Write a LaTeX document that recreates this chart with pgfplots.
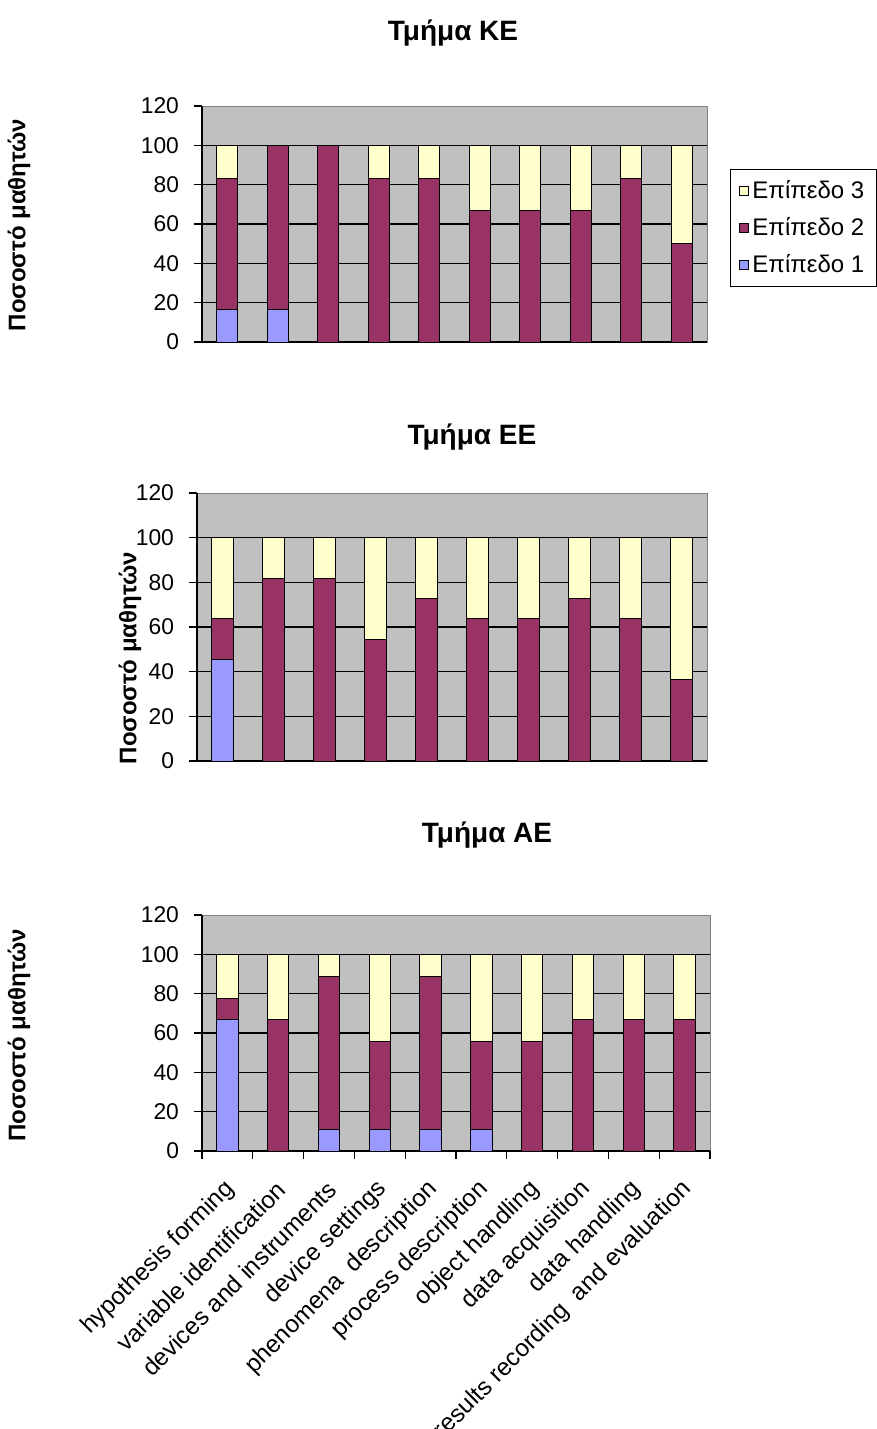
\documentclass[border=0pt]{standalone}
\usepackage{fontspec}
\setmainfont{Liberation Sans}
\usepackage{pgfplots}
\pgfplotsset{compat=1.18}

\definecolor{lvlone}{HTML}{9999FF}
\definecolor{lvltwo}{HTML}{993366}
\definecolor{lvlthree}{HTML}{FFFFCC}
\definecolor{plotbg}{HTML}{C0C0C0}

\pgfplotsset{
  mychart/.style={
    scale only axis,
    ybar stacked,
    bar width=0.42,
    xmin=-0.5, xmax=9.5,
    ymin=0, ymax=120,
    ytick={0,20,...,100},
    extra y ticks={120},
    extra y tick style={grid=none},
    ymajorgrids,
    grid style={black, line width=0.6pt},
    axis x line*=bottom, axis y line*=left,
    axis line style={black, line width=0.7pt, -},
    axis background/.style={fill=plotbg, draw=gray},
    tick align=outside,
    tick style={black, line width=0.6pt},
    major tick length=4pt,
    xtick=\empty,
    yticklabel style={font=\fontsize{11.4}{13}\selectfont, xshift=-4pt},
    /pgf/number format/assume math mode=true,
    every axis plot/.append style={draw=black, line width=0.5pt},
    title style={font=\fontsize{14}{16}\selectfont\bfseries, anchor=center, yshift=0pt},
    ylabel style={font=\fontsize{12}{14}\selectfont\bfseries, anchor=center},
    legend image code/.code={\draw[##1, draw=black, line width=0.4pt] (0pt,-2.2pt) rectangle (4.4pt,2.2pt);},
  },
}

\begin{document}
\begin{tikzpicture}
\useasboundingbox (0,0) rectangle (438.5pt,-714.5pt);

% ---------- Chart 1: Tmima KE ----------
\begin{axis}[mychart,
  at={(101pt,-171pt)}, anchor=south west,
  width=252.5pt, height=118pt,
  title={Τμήμα ΚΕ},
  title style={at={(axis description cs:0.497,1.258)}},
  ylabel={Ποσοστό μαθητών},
  ylabel style={at={(axis description cs:-0.3624,0.496)}},
  legend style={at={(axis description cs:1.046,0.734)}, anchor=north west,
    font=\fontsize{12}{14}\selectfont, draw=black, line width=0.6pt, fill=white,
    inner xsep=4pt, inner ysep=3.5pt, row sep=4pt, legend cell align=left},
  reverse legend,
]
\addplot[fill=lvlone] coordinates {(0,16.7) (1,16.7) (2,0) (3,0) (4,0) (5,0) (6,0) (7,0) (8,0) (9,0)};
\addplot[fill=lvltwo] coordinates {(0,66.6) (1,83.3) (2,100) (3,83.3) (4,83.3) (5,66.7) (6,66.7) (7,66.7) (8,83.3) (9,50)};
\addplot[fill=lvlthree] coordinates {(0,16.7) (1,0) (2,0) (3,16.7) (4,16.7) (5,33.3) (6,33.3) (7,33.3) (8,16.7) (9,50)};
\legend{Επίπεδο 1, Επίπεδο 2, Επίπεδο 3}
\end{axis}

% ---------- Chart 2: Tmima EE ----------
\begin{axis}[mychart,
  at={(98.5pt,-380.5pt)}, anchor=south west,
  width=255pt, height=134pt,
  title={Τμήμα ΕΕ},
  title style={at={(axis description cs:0.539,1.164)}},
  ylabel={Ποσοστό μαθητών},
  ylabel style={at={(axis description cs:-0.1314,0.384)}},
]
\addplot[fill=lvlone] coordinates {(0,45.5) (1,0) (2,0) (3,0) (4,0) (5,0) (6,0) (7,0) (8,0) (9,0)};
\addplot[fill=lvltwo] coordinates {(0,18.2) (1,81.8) (2,81.8) (3,54.5) (4,72.7) (5,63.6) (6,63.6) (7,72.7) (8,63.6) (9,36.4)};
\addplot[fill=lvlthree] coordinates {(0,36.3) (1,18.2) (2,18.2) (3,45.5) (4,27.3) (5,36.4) (6,36.4) (7,27.3) (8,36.4) (9,63.6)};
\end{axis}

% ---------- Chart 3: Tmima AE ----------
\begin{axis}[mychart,
  at={(101pt,-575.5pt)}, anchor=south west,
  width=254pt, height=118pt,
  title={Τμήμα ΑΕ},
  title style={at={(axis description cs:0.561,1.288)}},
  ylabel={Ποσοστό μαθητών},
  ylabel style={at={(axis description cs:-0.360,0.49)}},
  xtick={-0.5,0.5,...,9.5},
  xticklabels={},
  extra x ticks={0,1,2,3,4,5,6,7,8,9},
  extra x tick labels={hypothesis forming, variable identification, devices and instruments, device settings, phenomena~ description, process description, object handling, data acquisition, data handling, results recording~ and evaluation},
  extra x tick style={major tick length=0pt, xticklabel style={xshift=4.1pt, yshift=-14.8pt, rotate=45, anchor=east, font=\fontsize{12.2}{14}\selectfont}},
]
\addplot[fill=lvlone] coordinates {(0,66.7) (1,0) (2,11.1) (3,11.1) (4,11.1) (5,11.1) (6,0) (7,0) (8,0) (9,0)};
\addplot[fill=lvltwo] coordinates {(0,11.1) (1,66.7) (2,77.8) (3,44.4) (4,77.8) (5,44.4) (6,55.6) (7,66.7) (8,66.7) (9,66.7)};
\addplot[fill=lvlthree] coordinates {(0,22.2) (1,33.3) (2,11.1) (3,44.5) (4,11.1) (5,44.5) (6,44.4) (7,33.3) (8,33.3) (9,33.3)};
\end{axis}
\end{tikzpicture}
\end{document}
